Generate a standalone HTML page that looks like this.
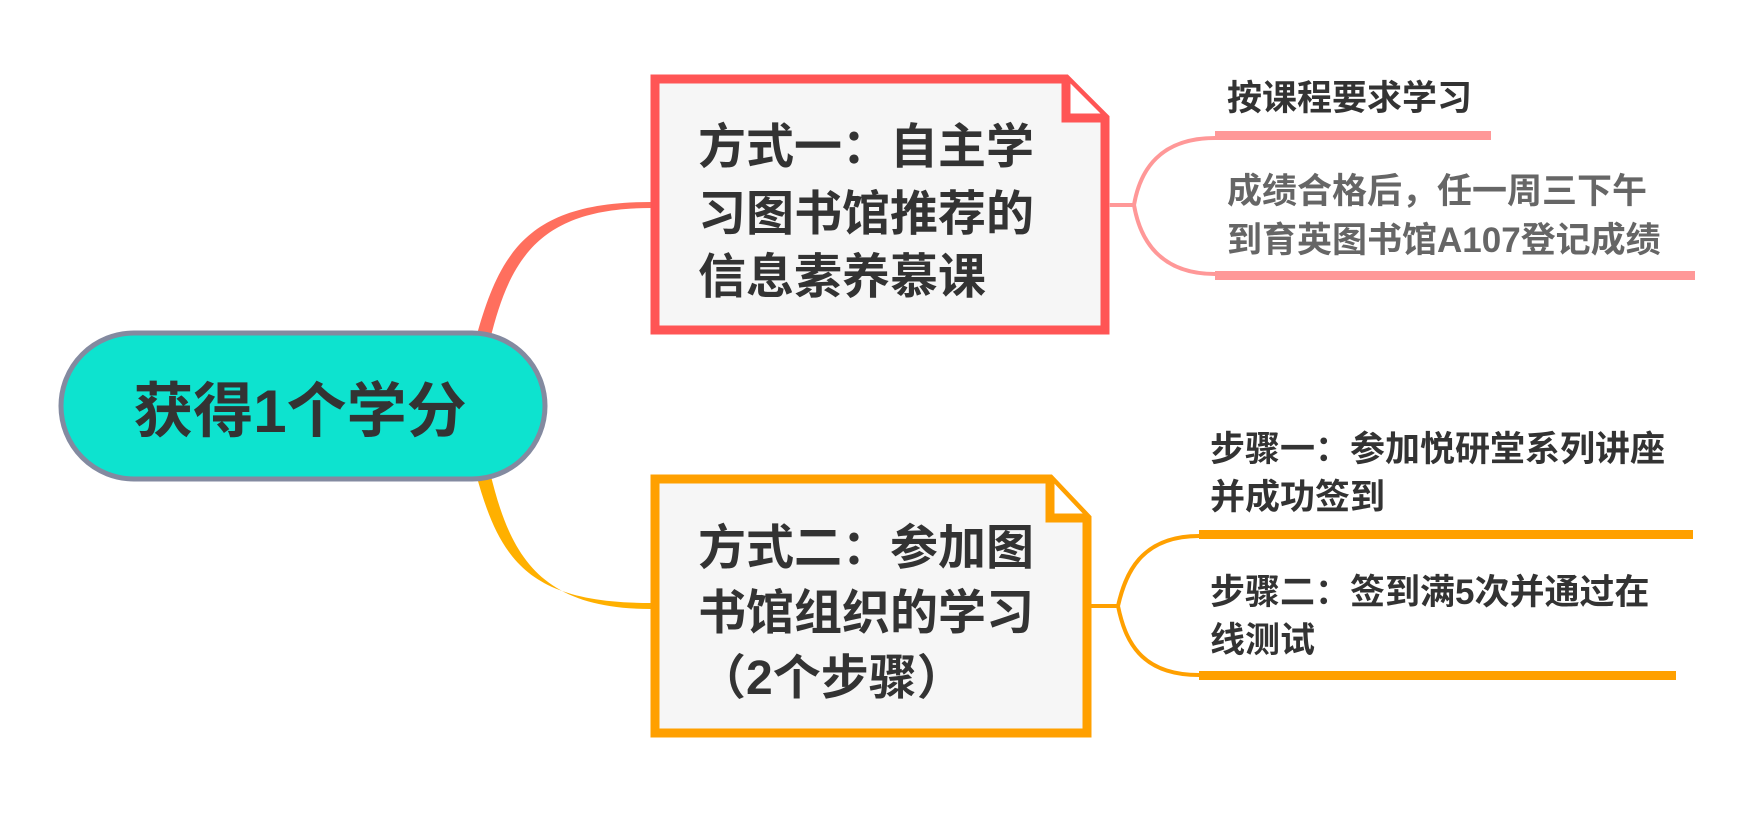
<!DOCTYPE html>
<html><head><meta charset="utf-8"><style>
html,body{margin:0;padding:0;background:#fff;width:1760px;height:831px;overflow:hidden}
text{font-family:"Liberation Sans","Noto Sans CJK SC",sans-serif;font-weight:bold}
</style></head><body>
<svg width="1760" height="831" viewBox="0 0 1760 831" xmlns="http://www.w3.org/2000/svg">
<!-- root connectors (tapered) -->
<path d="M476,338 C500,250 530,202 651,202 L651,208 C540,208 510,258 490,340 Z" fill="#ff6f5e"/>
<path d="M476,474 C500,562 530,603 651,603 L651,609 C540,609 510,556 490,472 Z" fill="#ffb000" transform="translate(0,0)"/>
<!-- root pill -->
<rect x="61" y="333" width="484" height="146" rx="73" fill="#0de3cf" stroke="#838aa0" stroke-width="5"/>
<text x="300" y="432" font-size="60" fill="#333" text-anchor="middle">获得1个学分</text>
<!-- box1 -->
<path d="M655,79 L1066,79 L1105,118 L1105,330 L655,330 Z" fill="#f6f6f6" stroke="#ff5555" stroke-width="9"/>
<path d="M1066,79 L1066,118 L1105,118" fill="#fff" stroke="#ff5555" stroke-width="9"/>
<text font-size="48" fill="#333"><tspan x="698" y="163">方式一：自主学</tspan><tspan x="698" y="230">习图书馆推荐的</tspan><tspan x="698" y="293">信息素养慕课</tspan></text>
<!-- box1 branches -->
<path d="M1109,205 L1134,205" stroke="#ff9898" stroke-width="4"/>
<path d="M1215,138 C1160,138 1140,170 1134,205 C1140,240 1160,274 1215,274" fill="none" stroke="#ff9898" stroke-width="4"/>
<rect x="1215" y="131" width="276" height="9" fill="#ff9898"/>
<rect x="1215" y="271" width="480" height="9" fill="#ff9898"/>
<text x="1227" y="110" font-size="35" fill="#333">按课程要求学习</text>
<text font-size="35" fill="#666"><tspan x="1227" y="203">成绩合格后，任一周三下午</tspan><tspan x="1227" y="252">到育英图书馆A107登记成绩</tspan></text>
<!-- box2 -->
<path d="M655,479 L1050,479 L1087,518 L1087,733 L655,733 Z" fill="#f6f6f6" stroke="#ffa000" stroke-width="9"/>
<path d="M1050,479 L1050,518 L1087,518" fill="#fff" stroke="#ffa000" stroke-width="9"/>
<text font-size="48" fill="#333"><tspan x="698" y="564">方式二：参加图</tspan><tspan x="698" y="629">书馆组织的学习</tspan><tspan x="698" y="694">（2个步骤）</tspan></text>
<!-- box2 branches -->
<path d="M1091,606 L1118,606" stroke="#ffa000" stroke-width="4"/>
<path d="M1199,536 C1140,536 1125,575 1118,606 C1125,640 1140,675 1199,675" fill="none" stroke="#ffa000" stroke-width="4"/>
<rect x="1199" y="530" width="494" height="9" fill="#ffa000"/>
<rect x="1199" y="671" width="477" height="9" fill="#ffa000"/>
<text font-size="35" fill="#333"><tspan x="1210" y="461">步骤一：参加悦研堂系列讲座</tspan><tspan x="1210" y="509">并成功签到</tspan></text>
<text font-size="35" fill="#333"><tspan x="1210" y="604">步骤二：签到满5次并通过在</tspan><tspan x="1210" y="652">线测试</tspan></text>
</svg>
</body></html>
